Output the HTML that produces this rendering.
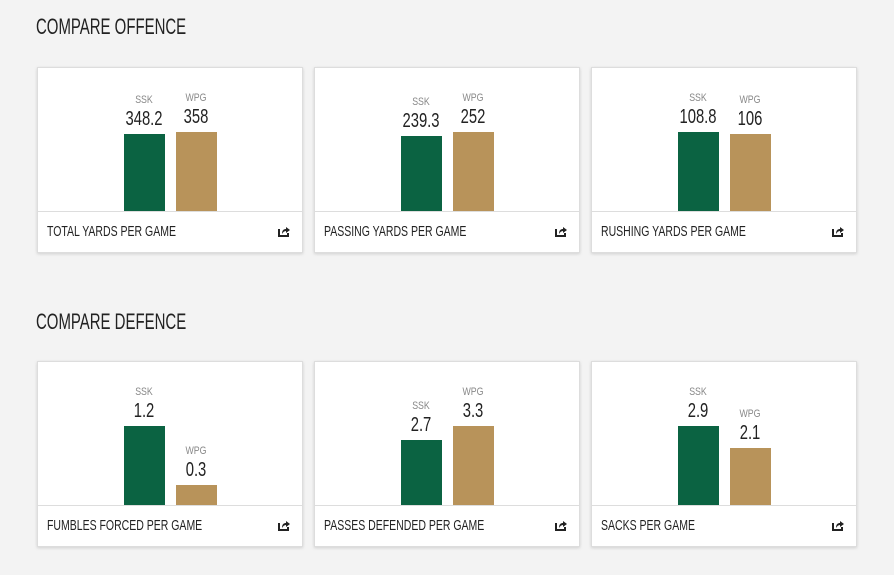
<!DOCTYPE html><html><head><style>
body{margin:0;width:894px;height:575px;background:#f3f3f3;font-family:"Liberation Sans",sans-serif;color:#222;position:relative;overflow:hidden}
h2{position:absolute;left:36px;margin:0;font-weight:normal;font-size:22px;color:#222;transform:scaleX(0.68);transform-origin:0 0;white-space:nowrap}
.card{position:absolute;width:266px;height:186px;background:#fff;border:1px solid #ddd;box-shadow:0 1px 3px rgba(0,0,0,0.15);box-sizing:border-box}
.div{position:absolute;left:0;right:0;top:143px;border-top:1px solid #ddd}
.foot{position:absolute;left:9px;top:155px;font-size:15px;color:#222;transform:scaleX(0.7);transform-origin:0 0;white-space:nowrap}
.ic{position:absolute;right:12px;top:158px;width:12px;height:11px}
.lab{position:absolute;width:60px;text-align:center;font-size:11px;color:#888;transform:scaleX(0.8)}
.val{position:absolute;width:80px;text-align:center;font-size:20px;color:#222;transform:scaleX(0.74)}
.bar{position:absolute;width:41px}
.g{background:#0b6342}.t{background:#b8935a}
</style></head><body>
<h2 style="top:14px">COMPARE OFFENCE</h2>
<h2 style="top:309px">COMPARE DEFENCE</h2>
<script>
const cards=[
[37,67,134,132,"348.2","358","TOTAL YARDS PER GAME"],
[314,67,136,132,"239.3","252","PASSING YARDS PER GAME"],
[591,67,132,134,"108.8","106","RUSHING YARDS PER GAME"],
[37,361,426,485,"1.2","0.3","FUMBLES FORCED PER GAME"],
[314,361,440,426,"2.7","3.3","PASSES DEFENDED PER GAME"],
[591,361,426,448,"2.9","2.1","SACKS PER GAME"]];
let h="";
const icon=`<svg class="ic" viewBox="0 0 12 11"><path d="M1 3 V10 H10 V7" fill="none" stroke="#222" stroke-width="2"/><path d="M4 8 C4 4 6 3 8 3 V1 L12 4 L8 7 V5 C6.5 5 5 6 4 8Z" fill="#222"/></svg>`;
for(const [x,y,a,b,va,vb,t] of cards){
 const ta=a-y-1,tb=b-y-1;
 h+=`<div class="card" style="left:${x}px;top:${y}px">`;
 [[86,ta,"g","SSK",va],[138,tb,"t","WPG",vb]].forEach(([bx,top,c,l,v])=>{
  h+=`<div class="bar ${c}" style="left:${bx}px;top:${top}px;height:${143-top}px"></div>`;
  h+=`<div class="lab" style="left:${bx-10}px;top:${top-40}px">${l}</div>`;
  h+=`<div class="val" style="left:${bx-20}px;top:${top-26}px">${v}</div>`;
 });
 h+=`<div class="div"></div><div class="foot">${t}</div>${icon}</div>`;
}
document.write(h);
</script>
</body></html>
